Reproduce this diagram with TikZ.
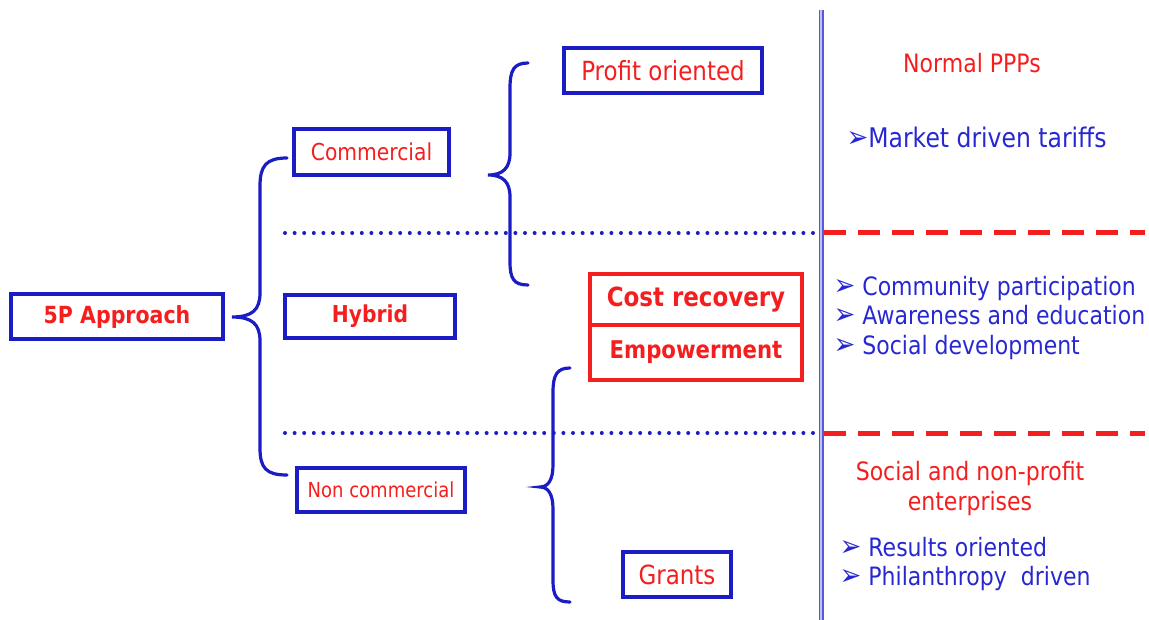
\documentclass[tikz,border=0pt]{standalone}
\usepackage{fontspec}
\setmainfont{DejaVu Sans}[FakeStretch=0.87]
\definecolor{bblue}{RGB}{28,28,196}
\definecolor{tblue}{RGB}{40,40,210}
\definecolor{rred}{RGB}{245,30,30}
\definecolor{vline}{RGB}{90,90,210}
\newcommand{\fs}[1]{\fontsize{#1}{#1}\selectfont}
\newcommand{\bul}{{\fontsize{30}{30}\selectfont\bfseries ➢}}
\tikzset{
  bbox/.style={draw=bblue, line width=3.4pt, text=rred, inner sep=0pt},
  rbox/.style={draw=rred, line width=3.6pt, text=rred, inner sep=0pt},
  brace/.style={draw=bblue, line width=3.2pt, line cap=round},
  dotline/.style={draw=bblue, line width=4pt, line cap=round, dash pattern=on 0pt off 9.6pt},
  dashline/.style={draw=rred, line width=5pt, dash pattern=on 22pt off 12pt},
  rtxt/.style={text=rred, font=\fontsize{25.3}{30}\selectfont, align=center},
  btxt/.style={text=tblue, font=\fontsize{25.3}{29.7}\selectfont, align=left, anchor=west}
}
\begin{document}
\begin{tikzpicture}[x=1pt,y=-1pt]
\useasboundingbox (0,0) rectangle (1149,620);
% boxes
\node[bbox, minimum width=212pt, minimum height=45pt, font=\fs{23.6}\bfseries] (fivep) at (117,316.5) {5P Approach};
\node[bbox, minimum width=155pt, minimum height=46pt, font=\fs{23.3}] (comm) at (371.5,152) {Commercial};
\node[bbox, minimum width=170pt, minimum height=43pt, font=\fs{23.3}\bfseries] (hyb) at (370,316.5) {Hybrid};
\node[bbox, minimum width=168pt, minimum height=44pt, font=\fs{20.7}] (noncomm) at (381,490) {Non commercial};
\node[bbox, minimum width=198pt, minimum height=45pt, font=\fs{26.4}] (profit) at (663,70.5) {Profit oriented};
\node[rbox, minimum width=212pt, minimum height=51pt, font=\fs{26.4}\bfseries] (cost) at (696,299.5) {Cost recovery};
\node[rbox, minimum width=212pt, minimum height=55pt, font=\fs{24.4}\bfseries] (emp) at (696,352.5) {Empowerment};
\node[bbox, minimum width=108pt, minimum height=45pt, font=\fs{26.4}] (grants) at (677,574.5) {Grants};
% separator lines
\coordinate (d1a) at (285,233); \coordinate (d1b) at (815,233);
\coordinate (d2a) at (285,433); \coordinate (d2b) at (815,433);
\coordinate (r1a) at (824,233); \coordinate (r1b) at (1145,233);
\coordinate (r2a) at (824,433); \coordinate (r2b) at (1145,433);
\draw[dotline] (d1a) -- (d1b);
\draw[dotline] (d2a) -- (d2b);
\draw[dashline] (r1a) -- (r1b);
\draw[dashline] (r2a) -- (r2b);
\coordinate (vt) at (821,10); \coordinate (vb) at (821,620);
\draw[draw=vline, line width=1.8pt, double=white!75!blue, double distance=1.4pt] (vt) -- (vb);
% braces
\coordinate (t1) at (232,317);
\coordinate (t2) at (488,175);
\coordinate (t3) at (540,487);
\draw[brace] (287,158) .. controls (266,158) and (260,166) .. (260,186) -- (260,293)
  .. controls (260,310) and (252,317) .. (t1)
  .. controls (252,317) and (260,324) .. (260,341) -- (260,448)
  .. controls (260,468) and (266,475) .. (287,475);
\draw[brace] (528,63) .. controls (514,63) and (510,70) .. (510,88) -- (510,153)
  .. controls (510,168) and (503,175) .. (t2)
  .. controls (503,175) and (510,182) .. (510,197) -- (510,262)
  .. controls (510,279) and (514,285) .. (528,285);
\draw[brace] (570,368) .. controls (557,368) and (553,375) .. (553,392) -- (553,465)
  .. controls (553,480) and (548,487) .. (t3)
  .. controls (548,487) and (553,494) .. (553,509) -- (553,580)
  .. controls (553,597) and (557,602) .. (570,602);
% right texts
\node[rtxt] (npp) at (972,63) {Normal PPPs};
\node[btxt, font=\fs{27}] (mkt) at (843,137) {\bul Market driven tariffs};
\node[btxt] (hyblist) at (830,318) {\bul\ Community participation\\\bul\ Awareness and education\\\bul\ Social development};
\node[rtxt] (soc) at (970,489) {Social and non-profit\\enterprises};
\node[btxt] (ncl) at (836,564) {\bul\ Results oriented\\\bul\ Philanthropy\ \ driven};
\end{tikzpicture}
\end{document}
